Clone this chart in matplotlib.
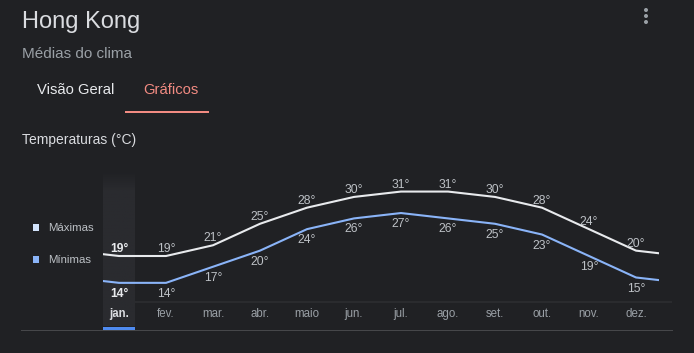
import numpy as np
import matplotlib.pyplot as plt
import matplotlib.transforms as mtransforms

months = ['jan.', 'fev.', 'mar.', 'abr.', 'maio', 'jun.', 'jul.', 'ago.', 'set.', 'out.', 'nov.', 'dez.']
t_max = [19, 19, 21, 25, 28, 30, 31, 31, 30, 28, 24, 20]
t_min = [14, 14, 17, 20, 24, 26, 27, 26, 25, 23, 19, 15]
selected = 0

BG = '#202124'
plt.rcParams['font.family'] = ['Liberation Sans', 'DejaVu Sans']

W, H = 694, 353
fig = plt.figure(figsize=(W / 100, H / 100), dpi=100, facecolor=BG)

# pixel-coordinate axes for page decorations
deco = fig.add_axes([0, 0, 1, 1])
deco.set_xlim(0, W)
deco.set_ylim(H, 0)
deco.axis('off')
deco.set_facecolor(BG)

deco.text(22, 28, 'Hong Kong', fontsize=17, color='#dadce0', va='baseline')
deco.text(22, 57.5, 'Médias do clima', fontsize=11, color='#9aa0a6', va='baseline')
deco.text(37, 94.3, 'Visão Geral', fontsize=10.6, color='#e8eaed', va='baseline')
deco.text(143, 94.3, 'Gráficos', fontsize=10.6, color='#f28b82', va='baseline')
deco.fill_between([125, 209], 111, 113.3, color='#f28b82', lw=0)
deco.text(22, 144.3, 'Temperaturas (°C)', fontsize=10, color='#dadce0', va='baseline')

# menu dots
for yy in (10, 16, 22):
    deco.add_patch(plt.Circle((646, yy), 2, color='#9aa0a6', lw=0))

# legend
deco.fill_between([33, 39.5], 224, 230.5, color='#d2e3fc', lw=0)
deco.text(48, 231, 'Máximas', fontsize=8.2, color='#bdc1c6', va='baseline')
deco.fill_between([33, 39.5], 256.3, 262.7, color='#8ab4f8', lw=0)
deco.text(48, 262.7, 'Mínimas', fontsize=8.2, color='#bdc1c6', va='baseline')

# baseline lines
deco.fill_between([103, 672], 301, 302.6, color='#2a2b2e', lw=0)
deco.fill_between([21, 673], 330, 331.4, color='#46474a', lw=0)

# chart axes
px_left, px_right, px_top, px_bot = 103, 659, 170, 331
x0, dx = 119, 47.0
y19, dy = 256.0, 5.37
ax = fig.add_axes([px_left / W, (H - px_bot) / H, (px_right - px_left) / W, (px_bot - px_top) / H])
ax.set_xlim((px_left - x0) / dx, (px_right - x0) / dx)
ax.set_ylim(19 - (px_bot - y19) / dy, 19 + (y19 - px_top) / dy)
ax.axis('off')
ax.patch.set_alpha(0)

# selected month band with fade-in at the top
sx = selected
half = 16 / dx
grad = np.linspace(0, 1, 100).reshape(-1, 1)
grad = np.clip(grad / 0.12, 0, 1)
band_rgb = np.array([0x2a, 0x2b, 0x2f]) / 255
bg_rgb = np.array([0x20, 0x21, 0x24]) / 255
img = bg_rgb + (band_rgb - bg_rgb) * grad[..., None]
blend = mtransforms.blended_transform_factory(ax.transData, deco.transData)
deco_img = ax.imshow(img, extent=(sx - half, sx + half, 326.5, 172), aspect='auto',
                     transform=blend, zorder=0, interpolation='bilinear')
ax.fill_between([sx - half, sx + half], 327, 330.3, color='#4f8bf0', lw=0,
                transform=blend, zorder=1)

xs = np.arange(len(months))
xw = np.concatenate([[-1], xs, [len(months)]])
ax.plot(xw, [t_max[-1]] + t_max + [t_max[0]], color='#e8eaed', lw=1.5, zorder=3,
        solid_joinstyle='round')
ax.plot(xw, [t_min[-1]] + t_min + [t_min[0]], color='#8ab4f8', lw=1.5, zorder=3,
        solid_joinstyle='round')

for i in xs:
    bold = 'bold' if i == selected else 'normal'
    col = '#e8eaed' if i == selected else '#bdc1c6'
    ax.annotate(f'{t_max[i]}°', (i, t_max[i]), xytext=(0, 2.9), textcoords='offset points',
                ha='center', va='baseline', fontsize=8.7, color=col, fontweight=bold)
    ax.annotate(f'{t_min[i]}°', (i, t_min[i]), xytext=(0, -10.1), textcoords='offset points',
                ha='center', va='baseline', fontsize=8.7, color=col, fontweight=bold)
    mcol = '#dadce0' if i == selected else '#9aa0a6'
    ax.text(i, 317, months[i], transform=blend, ha='center', va='baseline',
            fontsize=8.3, color=mcol, fontweight=bold)

fig.savefig('out.png', dpi=100, facecolor=BG)
